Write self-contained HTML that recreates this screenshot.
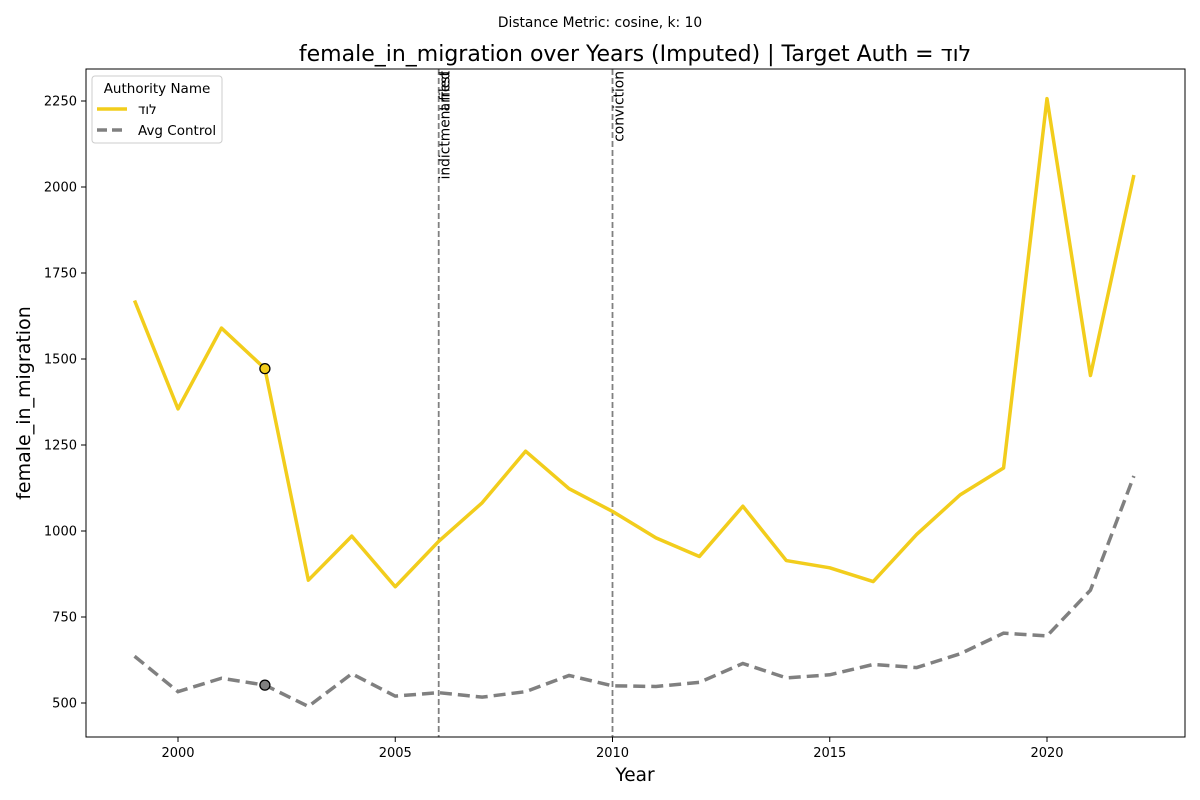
<!DOCTYPE html>
<html><head><meta charset="utf-8"><style>
html,body{margin:0;padding:0;background:#fff;}
svg{display:block;font-family:"DejaVu Sans","Liberation Sans",sans-serif;}
.ltr{unicode-bidi:bidi-override;direction:ltr;}
</style></head><body>
<svg id="chart" width="1200" height="800" viewBox="0 0 1200 800">
<text x="600" y="27" text-anchor="middle" font-size="13.8">Distance Metric: cosine, k: 10</text>
<text x="635" y="61" text-anchor="middle" font-size="22" class="ltr">female_in_migration over Years (Imputed) | Target Auth = דול</text>
<g id="plot"></g>
<rect x="86" y="69" width="1099" height="668" fill="none" stroke="#000" stroke-width="1"/>
<text x="635" y="781" text-anchor="middle" font-size="18.5">Year</text>
<text transform="translate(30,403) rotate(-90)" text-anchor="middle" font-size="19">female_in_migration</text>
<g>
<rect x="92" y="76" width="130" height="67" rx="3" fill="#fff" stroke="#ccc"/>
<text x="157" y="93" text-anchor="middle" font-size="13.5">Authority Name</text>
<line x1="97" y1="109" x2="127" y2="109" stroke="#f2cd1c" stroke-width="3.5"/>
<text x="138" y="114" font-size="13.5" class="ltr">דול</text>
<line x1="97" y1="130" x2="127" y2="130" stroke="#808080" stroke-width="3.5" stroke-dasharray="10,5"/>
<text x="138" y="135" font-size="13.5">Avg Control</text>
</g>
</svg>
<script>
const years=[1999,2000,2001,2002,2003,2004,2005,2006,2007,2008,2009,2010,2011,2012,2013,2014,2015,2016,2017,2018,2019,2020,2021,2022];
const target=[1670,1355,1590,1472,857,985,838,970,1082,1232,1123,1057,980,926,1072,914,893,853,990,1105,1183,2257,1452,2035];
const control=[636,533,572,552,490,585,520,530,517,533,580,550,548,560,615,573,582,612,603,643,703,695,828,1160];
const xTicks=[2000,2005,2010,2015,2020];
const yTicks=[500,750,1000,1250,1500,1750,2000,2250];
const events=[{year:2006,labels:["indictment filed","arrest"]},{year:2010,labels:["conviction"]}];
const markYear=2002;
const NS="http://www.w3.org/2000/svg";
const X=v=>178+(v-2000)*43.45;
const Y=v=>703-(v-500)*0.344;
const g=document.getElementById('plot');
function mk(t,a){const e=document.createElementNS(NS,t);for(const k in a)e.setAttribute(k,a[k]);g.appendChild(e);return e;}
xTicks.forEach(t=>{
 const l=mk('line',{x1:X(t),x2:X(t),y1:737,y2:742,stroke:'#000'});
 
 
 const tx=mk('text',{x:X(t),y:757,'text-anchor':'middle','font-size':13});tx.textContent=t;
 
 
});
yTicks.forEach(t=>{
 const l=mk('line',{x1:81,x2:86,y1:Y(t),y2:Y(t),stroke:'#000'});
 
 
 const tx=mk('text',{x:77,y:Y(t)+4.5,'text-anchor':'end','font-size':13});tx.textContent=t;
 
 
});
events.forEach(ev=>{
 const l=mk('line',{x1:X(ev.year),x2:X(ev.year),y1:69,y2:737,stroke:'#808080','stroke-width':1.8,'stroke-dasharray':'6,3'});
 
 
 ev.labels.forEach(s=>{
  const tx=mk('text',{transform:`translate(${X(ev.year)+11},71) rotate(-90)`,'text-anchor':'end','font-size':13.8});tx.textContent=s;
  
  
 });
});
function pts(arr){return arr.map((v,i)=>X(years[i])+','+Y(v)).join(' ');}
const c=mk('polyline',{points:pts(control),fill:'none',stroke:'#808080','stroke-width':3.5,'stroke-dasharray':'12,6'});


const t=mk('polyline',{points:pts(target),fill:'none',stroke:'#f2cd1c','stroke-width':3.5,'stroke-linejoin':'round'});


const mi=years.indexOf(markYear);
const m1=mk('circle',{cx:X(markYear),cy:Y(target[mi]),r:5,fill:'#f2cd1c',stroke:'#000','stroke-width':1.3});


const m2=mk('circle',{cx:X(markYear),cy:Y(control[mi]),r:5,fill:'#808080',stroke:'#000','stroke-width':1.3});


</script>
</body></html>
